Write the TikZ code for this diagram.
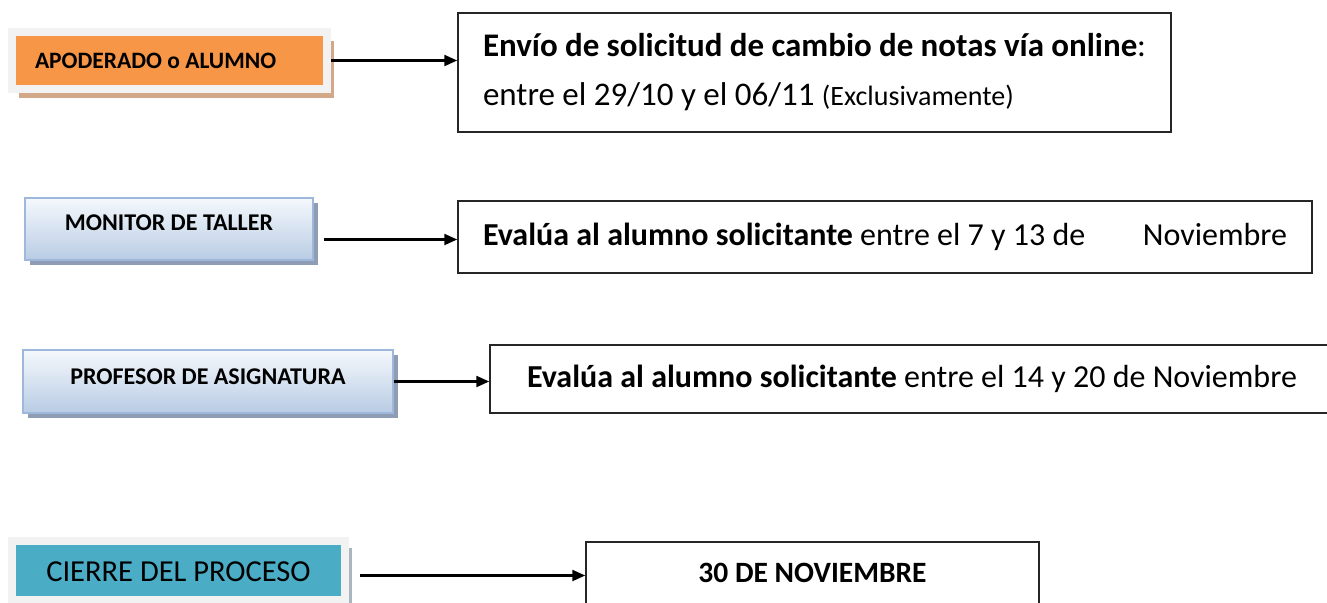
\documentclass[tikz,border=0pt]{standalone}
\usepackage{fontspec}
\setmainfont{Carlito}
\usetikzlibrary{shadows,arrows.meta}
\definecolor{naranja}{HTML}{F79646}
\definecolor{sombranaranja}{HTML}{D2A888}
\definecolor{grisclaro}{HTML}{F2F2F2}
\definecolor{grissombra}{HTML}{A9B6C0}
\definecolor{turquesa}{HTML}{4BACC6}
\definecolor{azularriba}{HTML}{F5F8FC}
\definecolor{azulabajo}{HTML}{B8CCE4}
\definecolor{azulborde}{HTML}{9DB8DA}
\definecolor{azulsombra}{HTML}{8E9DB4}

\begin{document}
\begin{tikzpicture}[x=1pt, y=-1pt,
  every node/.style = {shape=rectangle, inner sep=0pt, align=center},
  marco/.style = {draw=grisclaro, line width=8pt},
  rol/.style = {draw=azulborde, line width=1.5pt, top color=azularriba, bottom color=azulabajo,
    drop shadow={shadow xshift=5pt, shadow yshift=-5pt, fill=azulsombra, opacity=1},
    font=\fontsize{24}{28}\selectfont\bfseries},
  tarea/.style = {draw=black!85, line width=1.5pt, fill=white, align=flush left, font=\fontsize{32}{49}\selectfont},
  flecha/.style = {line width=2.3pt, -{Triangle[length=13pt, width=11pt]}}]
  \useasboundingbox (0,0) rectangle (1327,602);
  \clip (0,0) rectangle (1327,602);

  % fila 1
  \node[marco, fill=naranja, drop shadow={shadow xshift=7pt, shadow yshift=-9pt, fill=sombranaranja, opacity=1},
    minimum height=57pt, text width=269pt, inner xsep=23pt, align=flush left,
    font=\fontsize{23.5}{26}\selectfont\bfseries] (apoderado) at (169.5,60.5) {APODERADO o ALUMNO};
  \node[tarea, minimum height=119pt, text width=663pt, inner xsep=25pt, font=\fontsize{33}{49}\selectfont] (envio) at (814.5,72.5)
    {\textbf{Envío de solicitud de cambio de notas vía online}:\\
     entre el 29/10 y el 06/11 {\fontsize{28}{49}\selectfont(Exclusivamente)}};

  % fila 2
  \node[rol, minimum width=288pt, text height=32pt, text depth=30pt] (monitor) at (169,229) {MONITOR DE TALLER};
  \node[tarea, minimum width=854pt, minimum height=72pt] (taller) at (885,237)
    {\makebox[804pt][l]{\textbf{Evalúa al alumno solicitante} entre el 7 y 13 de\hfill Noviembre}};

  % fila 3
  \node[rol, minimum width=370pt, text height=34pt, text depth=29pt] (profesor) at (208,381.5) {PROFESOR DE ASIGNATURA};
  \node[tarea, minimum height=68pt, text width=800pt, inner xsep=37pt] (asignatura) at (927,379)
    {\textbf{Evalúa al alumno solicitante} entre el 14 y 20 de Noviembre};

  % fila 4
  \node[marco, fill=turquesa, drop shadow={shadow xshift=7pt, shadow yshift=-7pt, fill=grissombra, opacity=1},
    minimum width=333pt, text height=40pt, text depth=19pt, font=\fontsize{30.5}{34}\selectfont] (cierre) at (178.5,570.5) {CIERRE DEL PROCESO};
  \node[tarea, minimum width=453pt, text height=40pt, text depth=40pt, align=center,
    font=\fontsize{29.5}{34}\selectfont\bfseries] (fecha) at (812.5,582) {30 DE NOVIEMBRE};

  % flechas
  \draw[flecha] (apoderado.east) -- (apoderado.east -| envio.west);
  \coordinate (m) at ([shift={(10,10.5)}]monitor.east);
  \draw[flecha] (m) -- (m -| taller.west);
  \draw[flecha] (profesor.east) -- (profesor.east -| asignatura.west);
  \coordinate (c) at ([shift={(11,5)}]cierre.east);
  \draw[flecha] (c) -- (c -| fecha.west);
\end{tikzpicture}
\end{document}
